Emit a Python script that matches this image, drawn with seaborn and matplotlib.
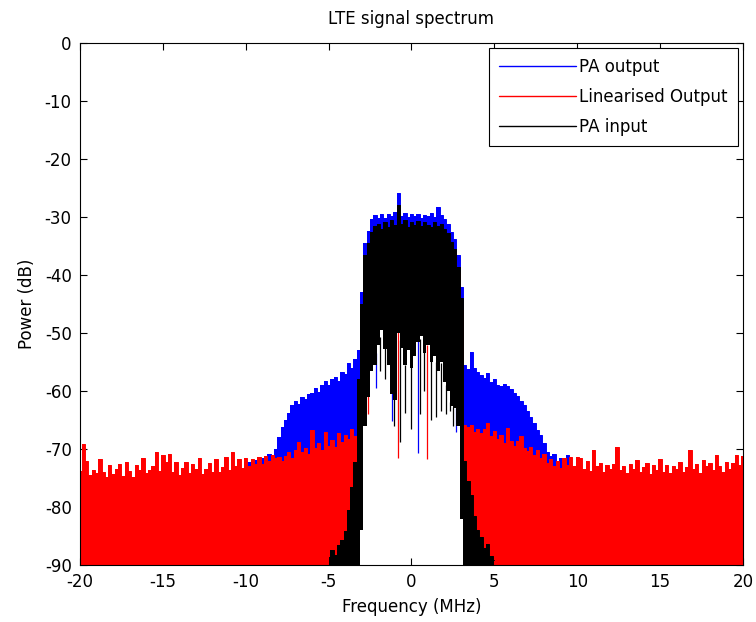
import numpy as np
import matplotlib
matplotlib.use("Agg")
import matplotlib.pyplot as plt
from matplotlib.lines import Line2D
import seaborn as sns

# ---------------------------------------------------------------------------
# Spectrum data: 0.2 MHz frequency bins from -20 MHz to +20 MHz.
# For each trace the per-bin peak (upper envelope, dB) is listed; inside the
# occupied LTE band (-3 .. +3 MHz) the per-bin floor (lower envelope) as well.
# ---------------------------------------------------------------------------
freq = np.round(np.linspace(-20.0, 20.0, 201), 1)
band_freq = np.round(np.linspace(-3.0, 3.0, 31), 1)
input_freq = np.round(np.linspace(-5.0, 5.0, 51), 1)

series_labels = ["PA output", "Linearised Output", "PA input"]
series_colors = ["#0000FF", "#FF0000", "#000000"]

pa_output_peak = [
    -74.6, -73.9, -74.8, -75.0, -74.2, -74.9, -74.4, -75.1, -75.2, -74.0,
    -74.8, -74.3, -75.0, -74.6, -74.1, -74.9, -75.2, -74.4, -74.8, -74.2,
    -74.7, -75.0, -74.3, -74.9, -74.5, -74.1, -74.8, -74.6, -75.1, -74.3,
    -74.9, -74.4, -74.7, -75.0, -74.2, -74.8, -74.5, -74.9, -74.1, -74.6,
    -74.3, -74.8, -74.6, -74.0, -74.7, -74.2, -74.5, -73.9, -74.4, -73.8,
    -73.0, -72.2, -73.4, -71.9, -72.6, -71.5, -72.3, -70.9, -71.2, -70.0,
    -68.0, -66.2, -65.0, -63.8, -62.4, -61.8, -62.2, -61.0, -61.4, -60.6,
    -60.3, -59.4, -60.1, -59.0, -58.3, -58.9, -58.0, -57.6, -58.2, -56.8,
    -57.0, -55.2, -56.0, -54.5, -53.0,
    -43.0, -34.5, -32.5, -30.4, -29.6, -30.2, -29.4, -30.1, -29.5, -29.9,
    -29.2, -25.9, -29.8, -29.3, -30.0, -29.4, -29.8, -29.5, -30.1, -29.6,
    -29.9, -29.3, -30.0, -28.2, -29.7, -30.4, -31.2, -32.6, -33.8, -36.5,
    -42.0,
    -55.6, -56.2, -53.3, -56.0, -56.8,
    -57.2, -57.8, -56.9, -58.4, -58.0, -58.9, -59.1, -58.8, -59.2, -59.6,
    -60.3, -60.9, -61.8, -62.4, -63.4, -64.4, -65.5, -66.8, -67.6, -69.0,
    -70.6, -71.2, -70.9, -72.8, -71.5, -73.6, -71.0, -72.9, -74.2, -74.6,
    -74.2, -74.8, -74.5, -75.0, -74.3, -74.7, -74.1, -74.9, -74.6, -74.4,
    -74.8, -74.3, -75.0, -74.6, -74.6, -74.9, -74.5, -74.7, -75.1, -74.2,
    -74.6, -74.9, -74.3, -74.8, -74.5, -75.0, -74.2, -74.7, -74.4, -74.9,
    -74.5, -74.1, -74.8, -74.6, -75.0, -74.3, -74.7, -74.2, -74.9, -74.5,
    -74.8, -74.4, -74.6, -75.1, -74.2, -74.7, -74.5, -74.9, -74.3, -74.6,
]

linearised_peak = [
    -73.8, -69.2, -72.0, -74.5, -73.6, -74.2, -71.8, -73.9, -74.8, -72.8,
    -74.3, -73.5, -72.5, -74.6, -72.3, -73.8, -74.9, -72.8, -73.7, -71.6,
    -74.2, -73.6, -73.0, -70.5, -73.8, -71.0, -72.2, -70.9, -74.0, -72.3,
    -74.4, -73.2, -72.3, -74.1, -72.6, -73.5, -71.6, -74.3, -73.4, -72.4,
    -73.9, -71.8, -74.0, -73.1, -71.4, -73.6, -70.6, -73.0, -71.7, -73.2,
    -71.5, -73.0, -71.8, -72.5, -71.4, -72.6, -71.2, -72.0, -71.0, -71.6,
    -71.4, -72.0, -71.2, -70.6, -71.5, -70.2, -68.8, -70.5, -69.9, -70.8,
    -66.8, -69.8, -69.0, -70.2, -67.0, -69.5, -68.4, -69.6, -67.2, -68.8,
    -67.5, -68.2, -66.6, -67.8, -66.4,
    -46.0, -37.5, -35.0, -33.0, -32.2, -31.8, -32.4, -31.5, -32.1, -31.2,
    -31.9, -30.5, -31.6, -31.1, -32.0, -31.4, -31.7, -31.2, -31.9, -31.3,
    -31.6, -32.1, -31.3, -31.8, -31.6, -32.5, -33.3, -34.8, -36.2, -39.5,
    -46.0,
    -65.9, -66.2, -65.8, -67.0, -66.5,
    -67.2, -66.6, -65.5, -67.8, -66.9, -68.3, -67.5, -68.9, -66.4, -68.6,
    -69.4, -68.7, -67.8, -69.9, -70.4, -69.6, -71.0, -70.2, -71.5, -70.8,
    -72.4, -71.8, -72.9, -72.0, -73.3, -71.6, -72.7, -71.3, -73.0, -71.4,
    -71.5, -73.4, -72.1, -73.8, -70.2, -73.0, -72.4, -74.0, -72.8, -73.5,
    -72.6, -69.7, -73.6, -72.9, -74.2, -72.5, -73.4, -71.9, -74.0, -73.1,
    -72.4, -74.3, -72.8, -73.6, -71.8, -73.9, -72.7, -74.1, -72.9, -73.4,
    -72.2, -74.0, -73.1, -70.2, -73.5, -72.6, -74.2, -71.9, -73.0, -72.4,
    -73.6, -71.0, -72.9, -74.0, -72.2, -73.5, -72.4, -71.0, -72.8, -71.2,
]

# PA input only rises above the -90 dB floor between -5 and +5 MHz
pa_input_peak = [
    -88.6, -87.4, -88.2, -86.6, -85.6, -84.2, -80.5, -76.5, -72.2, -58.0,
    -45.0, -36.5, -34.5, -32.6, -31.6, -31.2, -32.0, -30.9, -31.8, -30.6,
    -31.4, -27.9, -31.2, -30.5, -31.8, -30.9, -31.4, -30.7, -31.6, -30.9,
    -31.3, -31.8, -30.8, -31.5, -31.2, -32.0, -32.8, -34.3, -35.6, -38.6,
    -44.0,
    -72.0, -75.5, -78.0, -81.5, -84.0, -85.2, -87.0, -86.4, -88.4, -89.2,
]

# lower envelopes inside the occupied band
pa_output_floor = [
    -80.0, -64.0, -59.5, -55.5, -54.5, -51.0, -48.5, -51.8, -54.5, -59.5,
    -60.5, -49.0, -51.5, -54.5, -52.0, -55.0, -53.0, -50.5, -49.5, -52.5,
    -51.0, -54.0, -53.0, -55.5, -54.0, -57.5, -59.0, -61.5, -62.0, -64.0,
    -78.0,
]
linearised_floor = [
    -82.0, -65.0, -60.0, -56.0, -55.0, -51.5, -49.0, -52.3, -55.0, -60.0,
    -61.0, -49.5, -52.0, -55.0, -52.5, -55.5, -53.5, -51.0, -50.0, -53.0,
    -51.5, -54.5, -53.5, -56.0, -54.5, -58.0, -59.5, -62.0, -62.5, -65.0,
    -80.0,
]
pa_input_floor = [
    -84.0, -66.0, -61.0, -56.5, -55.5, -52.0, -49.5, -52.8, -55.5, -60.5,
    -61.5, -50.0, -52.5, -55.5, -53.0, -56.0, -54.0, -51.5, -50.5, -53.5,
    -52.0, -55.0, -54.0, -56.5, -55.0, -58.5, -60.0, -62.5, -63.0, -66.0,
    -82.0,
]

# narrow single-bin nulls inside the band (frequency MHz, level dB)
pa_output_null_freq = [-2.14, -1.20, 0.37, 2.70]
pa_output_null_db = [-59.5, -65.2, -70.7, -67.0]
linearised_null_freq = [-2.60, -0.80, 0.92]
linearised_null_db = [-64.0, -71.5, -71.8]
pa_input_null_freq = [-1.90, -1.62, -1.06, -0.70, -0.40, -0.03, 0.51, 0.78,
                      1.16, 1.48, 1.77, 2.06, 2.35, 2.52]
pa_input_null_db = [-56.5, -58.0, -66.0, -68.8, -63.8, -66.5, -64.0, -60.0,
                    -65.0, -64.5, -63.5, -64.0, -63.5, -66.0]

x_ticks = [-20, -15, -10, -5, 0, 5, 10, 15, 20]
y_ticks = [-90, -80, -70, -60, -50, -40, -30, -20, -10, 0]

# ---------------------------------------------------------------------------
sns.set_theme(style="white")
plt.rcParams["font.family"] = ["DejaVu Sans"]
plt.rcParams["axes.unicode_minus"] = False
plt.rcParams["text.color"] = "black"
plt.rcParams["axes.labelcolor"] = "black"
plt.rcParams["xtick.color"] = "black"
plt.rcParams["ytick.color"] = "black"

fig = plt.figure(figsize=(7.56, 6.22), dpi=100, facecolor="white")
ax = fig.add_axes([0.1058, 0.0916, 0.877, 0.8393])
ax.set_facecolor("white")

y_bottom = y_ticks[0]


def full_floor(x, band_values):
    """Lower envelope over x: the given band floor, else the axis bottom."""
    floor = np.full(len(x), float(y_bottom) - 5.0)
    idx = np.searchsorted(x, band_freq)
    floor[idx] = band_values
    return floor


traces = [
    (freq, pa_output_peak, pa_output_floor, pa_output_null_freq, pa_output_null_db),
    (freq, linearised_peak, linearised_floor, linearised_null_freq, linearised_null_db),
    (input_freq, pa_input_peak, pa_input_floor, pa_input_null_freq, pa_input_null_db),
]

for z, ((x, peak, band_floor, nf, ndb), color, label) in enumerate(
        zip(traces, series_colors, series_labels), start=1):
    peak = np.asarray(peak)
    floor = full_floor(x, band_floor)
    ax.fill_between(x, floor, peak, step="mid", color=color, lw=0,
                    zorder=z, antialiased=False)
    sns.lineplot(x=x, y=peak, ax=ax, color=color, lw=0.7,
                 drawstyle="steps-mid", zorder=z, legend=False)
    top = np.interp(nf, band_freq, band_floor)
    ax.vlines(nf, ndb, top, colors=color, lw=0.9, zorder=z)

ax.set_xlim(x_ticks[0], x_ticks[-1])
ax.set_ylim(y_ticks[0], y_ticks[-1])
ax.set_xticks(x_ticks)
ax.set_xticklabels([str(t) for t in x_ticks])
ax.set_yticks(y_ticks)
ax.set_yticklabels([str(t) for t in y_ticks])
ax.tick_params(direction="in", length=5, width=0.8, colors="black",
               labelsize=12, top=True, right=True, bottom=True, left=True)
ax.tick_params(axis="x", pad=6)
ax.tick_params(axis="y", pad=6)
for side in ax.spines.values():
    side.set_visible(True)
    side.set_color("black")
    side.set_linewidth(0.8)
    side.set_zorder(10)

ax.set_title("LTE signal spectrum", fontsize=12, pad=14, color="black")
ax.set_xlabel("Frequency (MHz)", fontsize=12, labelpad=5, color="black")
ax.set_ylabel("Power (dB)", fontsize=12, labelpad=6, color="black")

handles = [Line2D([0], [0], color=c, lw=1.0) for c in series_colors]
leg = ax.legend(handles, series_labels, loc="upper right", fontsize=12,
                frameon=True, fancybox=False, framealpha=1, edgecolor="black",
                borderaxespad=0.3, borderpad=0.6, handlelength=4.6,
                handletextpad=0.2, labelspacing=0.72)
leg.get_frame().set_linewidth(0.8)
for txt in leg.get_texts():
    txt.set_color("black")
leg.set_zorder(20)

fig.savefig("out.png", dpi=100, facecolor="white")
